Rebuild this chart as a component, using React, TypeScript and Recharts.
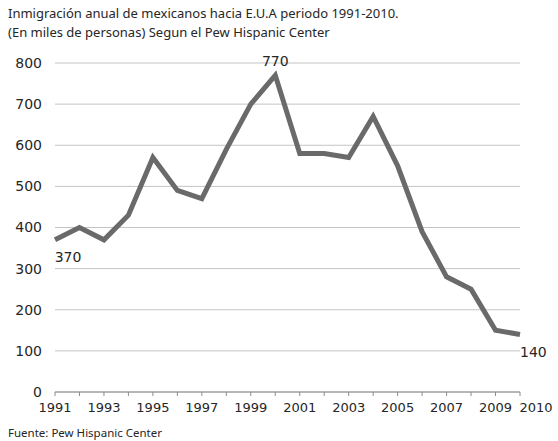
import { CartesianGrid, Line, LineChart, XAxis, YAxis } from "recharts";

const years = [
  1991, 1992, 1993, 1994, 1995, 1996, 1997, 1998, 1999, 2000,
  2001, 2002, 2003, 2004, 2005, 2006, 2007, 2008, 2009, 2010,
];
const migrants = [
  370, 400, 370, 430, 570, 490, 470, 590, 700, 770,
  580, 580, 570, 670, 550, 390, 280, 250, 150, 140,
];
const shownYears = [1991, 1993, 1995, 1997, 1999, 2001, 2003, 2005, 2007, 2009, 2010];
const yTicks = [0, 100, 200, 300, 400, 500, 600, 700, 800];
const labelledYears = [1991, 2000, 2010];

const data = years.map((y, i) => ({ year: y, value: migrants[i] }));

const txt = "#262626";

const YearTick = ({ x, y, payload }: any) => {
  if (!shownYears.includes(payload.value)) return null;
  // last label sits a little to the right, like in the original
  const dx = payload.value === 2010 ? 16 : 0;
  return (
    <text x={x + dx} y={y} dy={12} textAnchor="middle" fontSize={13} fill={txt} fontFamily="DejaVu Sans">
      {payload.value}
    </text>
  );
};

const PointLabel = ({ x, y, index, value }: any) => {
  const yr = years[index];
  if (!labelledYears.includes(yr)) return null;
  let tx = x, ty = y, anchor: "start" | "middle" = "middle";
  if (yr === 1991) { tx = x + 13; ty = y + 22; }
  if (yr === 2000) { ty = y - 9; }
  if (yr === 2010) { tx = x; ty = y + 23; anchor = "start"; }
  return (
    <text x={tx} y={ty} textAnchor={anchor} fontSize={14} fill={txt} fontFamily="DejaVu Sans">
      {value}
    </text>
  );
};

export default function App() {
  return (
    <div style={{ position: "fixed", left: 0, top: 0, width: 558, height: 441, background: "#fff" }}>
      <LineChart width={558} height={441} data={data} margin={{ top: 63, right: 38, bottom: 19, left: 0 }}>
        <CartesianGrid vertical={false} stroke="#c4c4c4" strokeWidth={1} />
        <XAxis
          dataKey="year"
          type="number"
          domain={[1991, 2010]}
          ticks={years}
          interval={0}
          tick={<YearTick />}
          tickSize={4}
          tickMargin={4}
          height={30}
          stroke="#8c8c8c"
        />
        <YAxis
          domain={[0, 800]}
          ticks={yTicks}
          width={55}
          axisLine={false}
          tickLine={false}
          tickSize={0}
          tickMargin={13}
          tick={{ fontSize: 14, fill: txt, fontFamily: "DejaVu Sans" }}
        />
        <Line
          type="linear"
          dataKey="value"
          stroke="#6a6a6a"
          strokeWidth={5}
          strokeLinejoin="miter"
          dot={false}
          label={<PointLabel />}
          isAnimationActive={false}
        />
        <text x={8} y={437} fontSize={11.5} fill={txt} fontFamily="Noto Sans">
          Fuente: Pew Hispanic Center
        </text>
      </LineChart>
      <div
        style={{
          position: "absolute", left: 8, top: 4, zIndex: 2, fontFamily: "'Noto Sans', sans-serif",
          fontSize: 13, lineHeight: "19px", color: txt,
        }}
      >
        Inmigración anual de mexicanos hacia E.U.A periodo 1991-2010.
        <br />
        (En miles de personas) Segun el Pew Hispanic Center
      </div>
    </div>
  );
}
